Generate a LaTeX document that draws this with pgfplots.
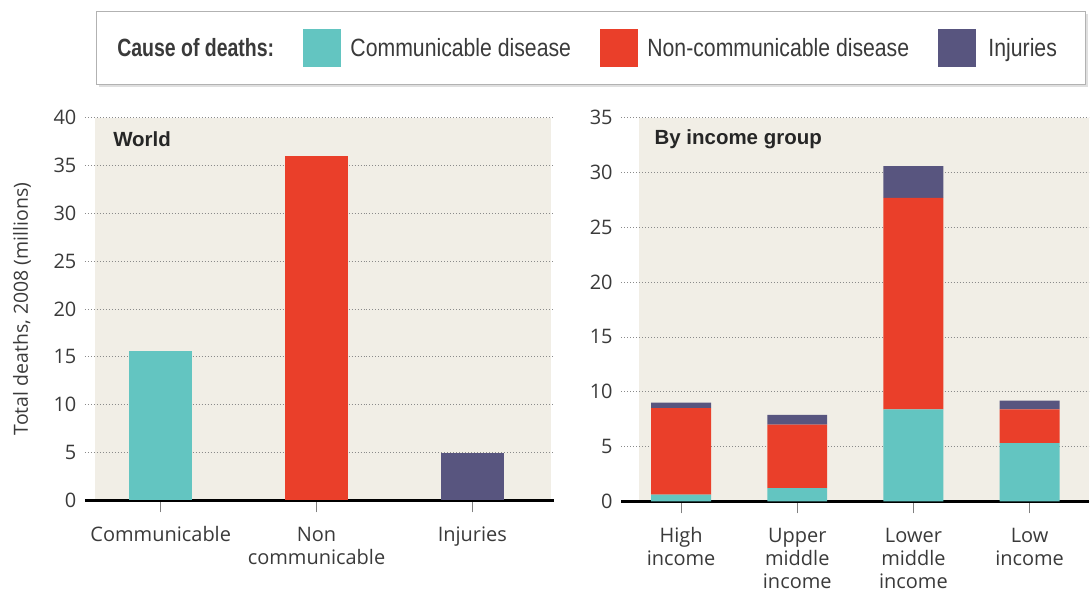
\documentclass[border=0pt]{standalone}
\usepackage{fontspec}
\setmainfont{Open Sans}
\newfontfamily\legfont[FakeStretch=0.85]{Liberation Sans}
\newfontfamily\legbold[FakeStretch=0.78]{Liberation Sans}
\newfontfamily\ttlfont{Liberation Sans}
\usepackage{pgfplots}
\pgfplotsset{compat=1.18}
\definecolor{cComm}{HTML}{63C5C1}
\definecolor{cNcd}{HTML}{EA3F2A}
\definecolor{cInj}{HTML}{58557F}
\definecolor{bgc}{HTML}{F1EEE6}
\definecolor{gridc}{HTML}{8A8A8A}
\definecolor{txt}{HTML}{3A3A3A}
\pgfplotsset{
  panel/.style={
    scale only axis,
    ymin=0,
    axis x line*=bottom, axis y line*=left,
    y axis line style={draw=none},
    x axis line style={black, line width=3pt, -},
    ymajorgrids,
    major grid style={gridc, line width=0.9pt, dash pattern=on 0.9pt off 2.1pt},
    ytick style={draw=none},
    xtick style={draw=gray, line width=1pt},
    tick align=outside,
    major tick length=12pt,
    tick label style={font=\fontsize{20}{23}\selectfont, text=txt},
    yticklabel style={xshift=7pt},
    xticklabel style={align=center, yshift=-11pt, font=\fontsize{20}{23}\selectfont},
    /pgf/number format/assume math mode=true,
  }
}
\begin{document}
\begin{tikzpicture}[x=1pt,y=1pt]
\path (0,0) rectangle (1090,592);
\fill[bgc] (95,91) rectangle (552,474);
\fill[bgc] (640,90) rectangle (1090,474);
\fill[gray!25] (99,505) rectangle (1089,578);
\draw[gray!60, line width=1pt, fill=white] (97,507) rectangle (1087,580);

\begin{axis}[panel,
  at={(85pt,91pt)}, anchor=south west,
  width=470pt, height=383pt,
  xmin=-0.487, xmax=2.526, ymax=40,
  ytick={0,5,...,40},
  xtick={0,1,2},
  xticklabels={Communicable,{Non\\communicable},Injuries},
  ylabel={Total deaths, 2008 (millions)},
  every axis y label/.style={at={(axis description cs:-0.134,0.5)}, rotate=90, anchor=center, text=txt, font=\fontsize{19.5}{22}\selectfont},
  ybar, bar width=63pt, bar shift=0pt,
  legend columns=-1,
  legend style={draw=none, fill=none, at={(axis description cs:0.058,1.183)}, anchor=west,
    font=\legfont\fontsize{25}{28}\selectfont, text=txt,
    /tikz/every even column/.append style={column sep=27pt}},
]
\addplot[fill=cComm, draw=none, forget plot] coordinates {(0,15.6)};
\addplot[fill=cNcd, draw=none, forget plot] coordinates {(1,36.0)};
\addplot[fill=cInj, draw=none, forget plot] coordinates {(2,5.0)};
\addlegendimage{empty legend}
\addlegendentry{\legbold\bfseries Cause of deaths:}
\addlegendimage{legend image code/.code={\fill[cComm] (0pt,-18.5pt) rectangle (37pt,18.5pt); \path (45pt,0pt);}}
\addlegendentry{Communicable disease}
\addlegendimage{legend image code/.code={\fill[cNcd] (0pt,-18.5pt) rectangle (37pt,18.5pt); \path (45pt,0pt);}}
\addlegendentry{Non-communicable disease}
\addlegendimage{legend image code/.code={\fill[cInj] (0pt,-18.5pt) rectangle (37pt,18.5pt); \path (48pt,0pt);}}
\addlegendentry{Injuries}
\node[anchor=west, font=\ttlfont\bfseries\fontsize{20.5}{24}\selectfont, text=black!85] at (axis description cs:0.053,0.943) {World};
\end{axis}

\begin{axis}[panel,
  at={(622pt,90pt)}, anchor=south west,
  width=468pt, height=384pt,
  xmin=-0.516, xmax=3.507, ymax=35,
  ytick={0,5,...,35},
  xtick={0,1,2,3},
  xticklabels={{High\\income},{Upper\\middle\\income},{Lower\\middle\\income},{Low\\income}},
  ybar stacked, bar width=60pt,
]
\addplot[fill=cComm, draw=none] coordinates {(0,0.6) (1,1.2) (2,8.4) (3,5.3)};
\addplot[fill=cNcd, draw=none] coordinates {(0,7.9) (1,5.8) (2,19.3) (3,3.1)};
\addplot[fill=cInj, draw=none] coordinates {(0,0.5) (1,0.9) (2,2.9) (3,0.8)};
\node[anchor=west, font=\ttlfont\bfseries\fontsize{20.5}{24}\selectfont, text=black!85] at (axis description cs:0.064,0.943) {By income group};
\end{axis}
\end{tikzpicture}
\end{document}
